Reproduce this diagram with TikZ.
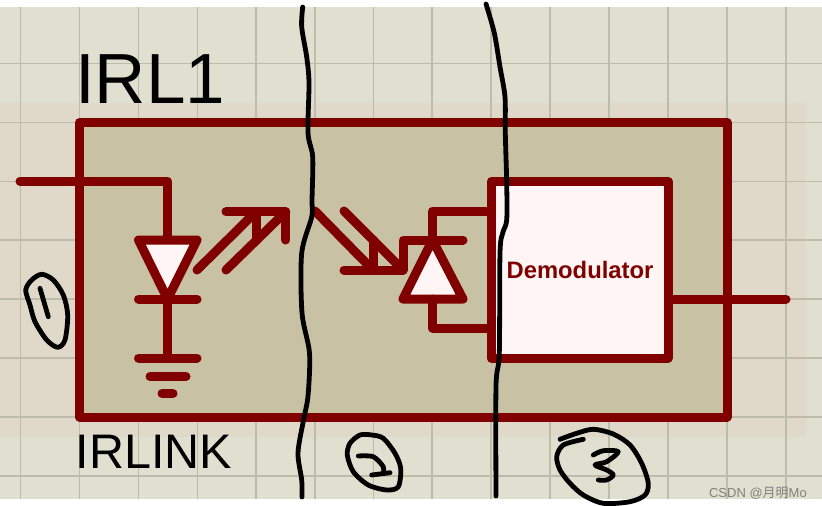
\documentclass[tikz,border=0pt]{standalone}
\usepackage{fontspec}
\setmainfont{Liberation Sans}
\newfontfamily\cjk{Noto Sans CJK SC}
\definecolor{sheetbg}{HTML}{DFE0CF}
\definecolor{sheetpale}{HTML}{E0D9C9}
\definecolor{gridln}{HTML}{BDBBA9}
\definecolor{chipfill}{HTML}{C8C1A3}
\definecolor{wirecol}{HTML}{800000}
\definecolor{partfill}{HTML}{FFF5F5}
\begin{document}
\begin{tikzpicture}[x=1pt,y=-1pt, wire/.style={draw=wirecol,line width=9pt,line cap=round,line join=round}, part/.style={wire,fill=partfill}, pen/.style={draw=black,line width=4.8pt,line cap=round,line join=round}, label/.style={anchor=base west,inner sep=0pt,text=black}]
\useasboundingbox[fill=white] (0,0) rectangle (822,506);
\fill[sheetbg] (0,7) rectangle (822,499);
\fill[sheetpale] (0,103) rectangle (806,437);
\foreach \gx in {20.5,79.5,138.5,197.5,256,315,373.5,432,491,550,609,668,727,786} \draw[gridln,line width=1.2pt] (\gx,7) -- (\gx,499);
\foreach \gy in {63.5,122.5,181.5,240,299,358,417,476} \draw[gridln,line width=1.2pt] (0,\gy) -- (822,\gy);
\coordinate (in) at (20,181);
\coordinate (dtl) at (138.5,240);
\coordinate (dtr) at (197,240);
\coordinate (dtop) at (167.5,240);
\coordinate (dtip) at (167.5,299);
\coordinate (gnd) at (167.5,358);
\coordinate (out) at (786,299);
\coordinate (ptip) at (432.5,240);
\coordinate (pbl) at (403,299);
\coordinate (pbr) at (463,299);
\coordinate (pbot) at (432.5,299);
\node[wire,fill=chipfill,inner sep=0pt,minimum width=647.5pt,minimum height=294.5pt] (chip) at (403.25,269.75) {};
\node[part,inner sep=0pt,minimum width=177pt,minimum height=176.5pt] (dem) at (579.5,269.75) {};
\node[anchor=base,inner sep=0pt,text=wirecol,font=\fontsize{23.8}{23.8}\selectfont\bfseries] (demtxt) at (580,278.7) {Demodulator};
\node[label,font=\fontsize{71}{71}\selectfont] (ref) at (75,103) {IRL1};
\node[label,font=\fontsize{48.5}{48.5}\selectfont] (val) at (75.5,468) {IRLINK};
\node[anchor=base east,inner sep=0pt,text=black!50,font=\fontsize{13}{13}\selectfont] (mark) at (807,497) {CSDN @{\cjk 月明}Mo};
\draw[wire] (in) -- (167.5,181) -- (dtop);
\draw[part] (dtl) -- (dtr) -- (dtip) -- cycle;
\draw[wire] (138.5,299) -- (197,299);
\draw[wire] (dtip) -- (gnd);
\draw[wire] (138.5,358) -- (197,358);
\draw[wire] (150,376.5) -- (186,376.5);
\draw[wire] (162,393.5) -- (173,393.5);
\draw[wire] (197,270) -- (256,211.7);
\draw[wire] (226,270) -- (285.7,211.7);
\draw[wire] (226,211.7) -- (285.7,211.7) -- (285.7,240);
\draw[wire] (256.5,211.7) -- (256.5,240);
\draw[wire] (315,211) -- (373,270);
\draw[wire] (344,211) -- (403,270);
\draw[wire] (344,270) -- (403,270) -- (403,240) -- (463,240);
\draw[wire] (373,270) -- (373,240);
\draw[part] (ptip) -- (pbr) -- (pbl) -- cycle;
\draw[wire] (ptip) -- (432.5,211) -- (dem.west |- 0,211);
\draw[wire] (pbot) -- (432.5,328) -- (dem.west |- 0,328);
\draw[wire] (dem.east |- out) -- (out);
\draw[pen] plot[smooth] coordinates {(302.7,7) (301.7,27) (306.7,57) (309,83) (308,133) (312.7,157) (312,200) (311.7,217) (301.7,253) (302,313) (309.5,353) (308,396) (303.5,420) (298,453) (301.7,480) (302,497)};
\draw[pen] plot[smooth] coordinates {(486,4) (494.3,33) (500,67) (505,97) (505.3,133) (506.7,183) (506.7,220) (502.7,233) (500,253) (499.3,353) (496,386) (496,496)};
\draw[pen] plot[smooth cycle] coordinates {(41.7,274.3) (53.3,280) (63.3,295) (67.7,315) (65,340) (57.7,347.3) (46.7,340) (35,321.7) (30,305) (25.7,290) (31.7,280)};
\draw[pen] (40,288.3) -- (48.3,316.7);
\draw[pen] plot[smooth cycle] coordinates {(371.7,435) (383.3,438.3) (395,453.3) (400.7,468.3) (398.3,486.7) (386.7,490) (368.3,485) (353.3,471.7) (347.3,455) (350,443.3) (360,435)};
\draw[pen] plot[smooth] coordinates {(358.3,456) (373.3,456.7) (383.3,466.7) (383.3,473)};
\draw[pen] (371.7,475) -- (390,472.7);
\draw[pen] plot[smooth] coordinates {(560,439.3) (576.7,433.3) (593.3,429.3) (613.3,434) (630,445) (641.7,463.3) (648.3,483.3) (645,495) (630,501.7) (603.3,503.3) (583.3,495) (570,483.3) (560,470) (556.7,456.7) (563.3,445) (583.3,439.3)};
\draw[pen] plot[smooth] coordinates {(593.3,455) (603.3,450.7) (618.3,451.7) (606.7,461.7) (595,465) (606.7,470) (613.3,475) (606.7,480) (598.3,480)};
\end{tikzpicture}
\end{document}
